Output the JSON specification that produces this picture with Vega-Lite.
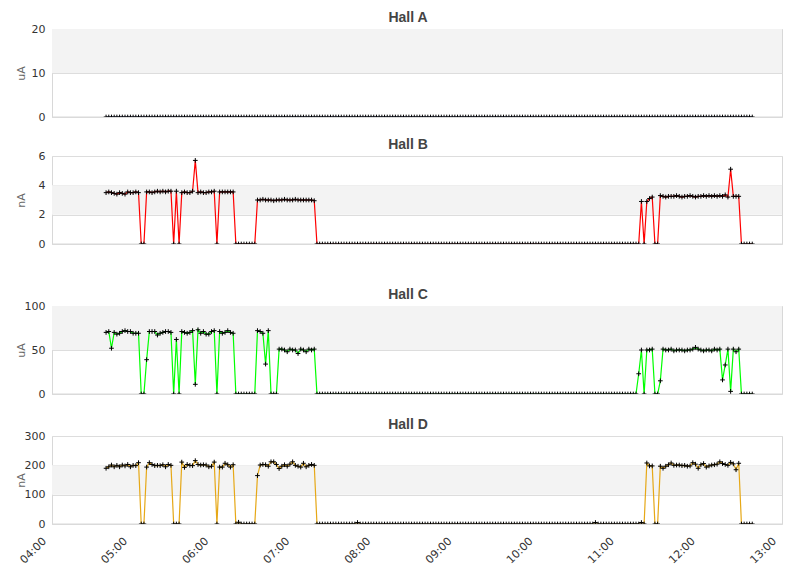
{
  "$schema": "https://vega.github.io/schema/vega-lite/v6.json",
  "background": "white",
  "padding": {"left": 14, "top": 10, "right": 24, "bottom": 5},
  "data": {
    "values": [
      {"t":"2000-01-01T04:40","a":0,"b":3.5,"c":70,"d":190},
      {"t":"2000-01-01T04:42","a":0,"b":3.55,"c":71,"d":195},
      {"t":"2000-01-01T04:44","a":0,"b":3.5,"c":52,"d":201},
      {"t":"2000-01-01T04:46","a":0,"b":3.45,"c":70,"d":195},
      {"t":"2000-01-01T04:48","a":0,"b":3.4,"c":68,"d":200},
      {"t":"2000-01-01T04:50","a":0,"b":3.5,"c":69,"d":195},
      {"t":"2000-01-01T04:52","a":0,"b":3.45,"c":71,"d":201},
      {"t":"2000-01-01T04:54","a":0,"b":3.4,"c":72,"d":198},
      {"t":"2000-01-01T04:56","a":0,"b":3.55,"c":71,"d":203},
      {"t":"2000-01-01T04:58","a":0,"b":3.5,"c":71,"d":195},
      {"t":"2000-01-01T05:00","a":0,"b":3.5,"c":69,"d":200},
      {"t":"2000-01-01T05:02","a":0,"b":3.55,"c":69,"d":199},
      {"t":"2000-01-01T05:04","a":0,"b":3.5,"c":69,"d":209},
      {"t":"2000-01-01T05:06","a":0,"b":0,"c":0,"d":0},
      {"t":"2000-01-01T05:08","a":0,"b":0,"c":0,"d":0},
      {"t":"2000-01-01T05:10","a":0,"b":3.55,"c":39,"d":194},
      {"t":"2000-01-01T05:12","a":0,"b":3.55,"c":71,"d":209},
      {"t":"2000-01-01T05:14","a":0,"b":3.5,"c":71,"d":203},
      {"t":"2000-01-01T05:16","a":0,"b":3.55,"c":71,"d":199},
      {"t":"2000-01-01T05:18","a":0,"b":3.6,"c":67,"d":200},
      {"t":"2000-01-01T05:20","a":0,"b":3.55,"c":69,"d":199},
      {"t":"2000-01-01T05:22","a":0,"b":3.6,"c":70,"d":202},
      {"t":"2000-01-01T05:24","a":0,"b":3.55,"c":71,"d":195},
      {"t":"2000-01-01T05:26","a":0,"b":3.6,"c":71,"d":203},
      {"t":"2000-01-01T05:28","a":0,"b":3.6,"c":70,"d":200},
      {"t":"2000-01-01T05:30","a":0,"b":0,"c":0,"d":0},
      {"t":"2000-01-01T05:32","a":0,"b":3.6,"c":62,"d":0},
      {"t":"2000-01-01T05:34","a":0,"b":0,"c":0,"d":0},
      {"t":"2000-01-01T05:36","a":0,"b":3.5,"c":71,"d":211},
      {"t":"2000-01-01T05:38","a":0,"b":3.55,"c":70,"d":193},
      {"t":"2000-01-01T05:40","a":0,"b":3.5,"c":69,"d":203},
      {"t":"2000-01-01T05:42","a":0,"b":3.5,"c":70,"d":200},
      {"t":"2000-01-01T05:44","a":0,"b":3.6,"c":72,"d":199},
      {"t":"2000-01-01T05:46","a":0,"b":5.7,"c":11,"d":216},
      {"t":"2000-01-01T05:48","a":0,"b":3.5,"c":73,"d":203},
      {"t":"2000-01-01T05:50","a":0,"b":3.55,"c":69,"d":201},
      {"t":"2000-01-01T05:52","a":0,"b":3.5,"c":71,"d":202},
      {"t":"2000-01-01T05:54","a":0,"b":3.5,"c":68,"d":201},
      {"t":"2000-01-01T05:56","a":0,"b":3.55,"c":68,"d":195},
      {"t":"2000-01-01T05:58","a":0,"b":3.55,"c":71,"d":197},
      {"t":"2000-01-01T06:00","a":0,"b":3.6,"c":72,"d":211},
      {"t":"2000-01-01T06:02","a":0,"b":0,"c":0,"d":0},
      {"t":"2000-01-01T06:04","a":0,"b":3.55,"c":71,"d":194},
      {"t":"2000-01-01T06:06","a":0,"b":3.55,"c":69,"d":194},
      {"t":"2000-01-01T06:08","a":0,"b":3.55,"c":70,"d":207},
      {"t":"2000-01-01T06:10","a":0,"b":3.55,"c":72,"d":202},
      {"t":"2000-01-01T06:12","a":0,"b":3.55,"c":70,"d":194},
      {"t":"2000-01-01T06:14","a":0,"b":3.55,"c":69,"d":202},
      {"t":"2000-01-01T06:16","a":0,"b":0,"c":0,"d":0},
      {"t":"2000-01-01T06:18","a":0,"b":0,"c":0,"d":6},
      {"t":"2000-01-01T06:20","a":0,"b":0,"c":0,"d":0},
      {"t":"2000-01-01T06:22","a":0,"b":0,"c":0,"d":0},
      {"t":"2000-01-01T06:24","a":0,"b":0,"c":0,"d":0},
      {"t":"2000-01-01T06:26","a":0,"b":0,"c":0,"d":0},
      {"t":"2000-01-01T06:28","a":0,"b":0,"c":0,"d":0},
      {"t":"2000-01-01T06:30","a":0,"b":0,"c":0,"d":0},
      {"t":"2000-01-01T06:32","a":0,"b":3,"c":72,"d":165},
      {"t":"2000-01-01T06:34","a":0,"b":3,"c":71,"d":201},
      {"t":"2000-01-01T06:36","a":0,"b":3.05,"c":69,"d":203},
      {"t":"2000-01-01T06:38","a":0,"b":3,"c":34,"d":202},
      {"t":"2000-01-01T06:40","a":0,"b":3,"c":72,"d":197},
      {"t":"2000-01-01T06:42","a":0,"b":3,"c":0,"d":212},
      {"t":"2000-01-01T06:44","a":0,"b":2.95,"c":0,"d":212},
      {"t":"2000-01-01T06:46","a":0,"b":3,"c":0,"d":203},
      {"t":"2000-01-01T06:48","a":0,"b":3,"c":51,"d":189},
      {"t":"2000-01-01T06:50","a":0,"b":3,"c":51,"d":197},
      {"t":"2000-01-01T06:52","a":0,"b":3.05,"c":50,"d":202},
      {"t":"2000-01-01T06:54","a":0,"b":3,"c":48,"d":197},
      {"t":"2000-01-01T06:56","a":0,"b":3,"c":51,"d":204},
      {"t":"2000-01-01T06:58","a":0,"b":3,"c":50,"d":212},
      {"t":"2000-01-01T07:00","a":0,"b":3.05,"c":50,"d":200},
      {"t":"2000-01-01T07:02","a":0,"b":3,"c":46,"d":197},
      {"t":"2000-01-01T07:04","a":0,"b":3,"c":51,"d":194},
      {"t":"2000-01-01T07:06","a":0,"b":3,"c":50,"d":207},
      {"t":"2000-01-01T07:08","a":0,"b":3,"c":48,"d":195},
      {"t":"2000-01-01T07:10","a":0,"b":3,"c":51,"d":200},
      {"t":"2000-01-01T07:12","a":0,"b":3,"c":50,"d":203},
      {"t":"2000-01-01T07:14","a":0,"b":2.95,"c":51,"d":200},
      {"t":"2000-01-01T07:16","a":0,"b":0,"c":0,"d":0},
      {"t":"2000-01-01T07:18","a":0,"b":0,"c":0,"d":0},
      {"t":"2000-01-01T07:20","a":0,"b":0,"c":0,"d":0},
      {"t":"2000-01-01T07:22","a":0,"b":0,"c":0,"d":0},
      {"t":"2000-01-01T07:24","a":0,"b":0,"c":0,"d":0},
      {"t":"2000-01-01T07:26","a":0,"b":0,"c":0,"d":0},
      {"t":"2000-01-01T07:28","a":0,"b":0,"c":0,"d":0},
      {"t":"2000-01-01T07:30","a":0,"b":0,"c":0,"d":0},
      {"t":"2000-01-01T07:32","a":0,"b":0,"c":0,"d":0},
      {"t":"2000-01-01T07:34","a":0,"b":0,"c":0,"d":0},
      {"t":"2000-01-01T07:36","a":0,"b":0,"c":0,"d":0},
      {"t":"2000-01-01T07:38","a":0,"b":0,"c":0,"d":0},
      {"t":"2000-01-01T07:40","a":0,"b":0,"c":0,"d":0},
      {"t":"2000-01-01T07:42","a":0,"b":0,"c":0,"d":0},
      {"t":"2000-01-01T07:44","a":0,"b":0,"c":0,"d":0},
      {"t":"2000-01-01T07:46","a":0,"b":0,"c":0,"d":5},
      {"t":"2000-01-01T07:48","a":0,"b":0,"c":0,"d":0},
      {"t":"2000-01-01T07:50","a":0,"b":0,"c":0,"d":0},
      {"t":"2000-01-01T07:52","a":0,"b":0,"c":0,"d":0},
      {"t":"2000-01-01T07:54","a":0,"b":0,"c":0,"d":0},
      {"t":"2000-01-01T07:56","a":0,"b":0,"c":0,"d":0},
      {"t":"2000-01-01T07:58","a":0,"b":0,"c":0,"d":0},
      {"t":"2000-01-01T08:00","a":0,"b":0,"c":0,"d":0},
      {"t":"2000-01-01T08:02","a":0,"b":0,"c":0,"d":0},
      {"t":"2000-01-01T08:04","a":0,"b":0,"c":0,"d":0},
      {"t":"2000-01-01T08:06","a":0,"b":0,"c":0,"d":0},
      {"t":"2000-01-01T08:08","a":0,"b":0,"c":0,"d":0},
      {"t":"2000-01-01T08:10","a":0,"b":0,"c":0,"d":0},
      {"t":"2000-01-01T08:12","a":0,"b":0,"c":0,"d":0},
      {"t":"2000-01-01T08:14","a":0,"b":0,"c":0,"d":0},
      {"t":"2000-01-01T08:16","a":0,"b":0,"c":0,"d":0},
      {"t":"2000-01-01T08:18","a":0,"b":0,"c":0,"d":0},
      {"t":"2000-01-01T08:20","a":0,"b":0,"c":0,"d":0},
      {"t":"2000-01-01T08:22","a":0,"b":0,"c":0,"d":0},
      {"t":"2000-01-01T08:24","a":0,"b":0,"c":0,"d":0},
      {"t":"2000-01-01T08:26","a":0,"b":0,"c":0,"d":0},
      {"t":"2000-01-01T08:28","a":0,"b":0,"c":0,"d":0},
      {"t":"2000-01-01T08:30","a":0,"b":0,"c":0,"d":0},
      {"t":"2000-01-01T08:32","a":0,"b":0,"c":0,"d":0},
      {"t":"2000-01-01T08:34","a":0,"b":0,"c":0,"d":0},
      {"t":"2000-01-01T08:36","a":0,"b":0,"c":0,"d":0},
      {"t":"2000-01-01T08:38","a":0,"b":0,"c":0,"d":0},
      {"t":"2000-01-01T08:40","a":0,"b":0,"c":0,"d":0},
      {"t":"2000-01-01T08:42","a":0,"b":0,"c":0,"d":0},
      {"t":"2000-01-01T08:44","a":0,"b":0,"c":0,"d":0},
      {"t":"2000-01-01T08:46","a":0,"b":0,"c":0,"d":0},
      {"t":"2000-01-01T08:48","a":0,"b":0,"c":0,"d":0},
      {"t":"2000-01-01T08:50","a":0,"b":0,"c":0,"d":0},
      {"t":"2000-01-01T08:52","a":0,"b":0,"c":0,"d":0},
      {"t":"2000-01-01T08:54","a":0,"b":0,"c":0,"d":0},
      {"t":"2000-01-01T08:56","a":0,"b":0,"c":0,"d":0},
      {"t":"2000-01-01T08:58","a":0,"b":0,"c":0,"d":0},
      {"t":"2000-01-01T09:00","a":0,"b":0,"c":0,"d":0},
      {"t":"2000-01-01T09:02","a":0,"b":0,"c":0,"d":0},
      {"t":"2000-01-01T09:04","a":0,"b":0,"c":0,"d":0},
      {"t":"2000-01-01T09:06","a":0,"b":0,"c":0,"d":0},
      {"t":"2000-01-01T09:08","a":0,"b":0,"c":0,"d":0},
      {"t":"2000-01-01T09:10","a":0,"b":0,"c":0,"d":0},
      {"t":"2000-01-01T09:12","a":0,"b":0,"c":0,"d":0},
      {"t":"2000-01-01T09:14","a":0,"b":0,"c":0,"d":0},
      {"t":"2000-01-01T09:16","a":0,"b":0,"c":0,"d":0},
      {"t":"2000-01-01T09:18","a":0,"b":0,"c":0,"d":0},
      {"t":"2000-01-01T09:20","a":0,"b":0,"c":0,"d":0},
      {"t":"2000-01-01T09:22","a":0,"b":0,"c":0,"d":0},
      {"t":"2000-01-01T09:24","a":0,"b":0,"c":0,"d":0},
      {"t":"2000-01-01T09:26","a":0,"b":0,"c":0,"d":0},
      {"t":"2000-01-01T09:28","a":0,"b":0,"c":0,"d":0},
      {"t":"2000-01-01T09:30","a":0,"b":0,"c":0,"d":0},
      {"t":"2000-01-01T09:32","a":0,"b":0,"c":0,"d":0},
      {"t":"2000-01-01T09:34","a":0,"b":0,"c":0,"d":0},
      {"t":"2000-01-01T09:36","a":0,"b":0,"c":0,"d":0},
      {"t":"2000-01-01T09:38","a":0,"b":0,"c":0,"d":0},
      {"t":"2000-01-01T09:40","a":0,"b":0,"c":0,"d":0},
      {"t":"2000-01-01T09:42","a":0,"b":0,"c":0,"d":0},
      {"t":"2000-01-01T09:44","a":0,"b":0,"c":0,"d":0},
      {"t":"2000-01-01T09:46","a":0,"b":0,"c":0,"d":0},
      {"t":"2000-01-01T09:48","a":0,"b":0,"c":0,"d":0},
      {"t":"2000-01-01T09:50","a":0,"b":0,"c":0,"d":0},
      {"t":"2000-01-01T09:52","a":0,"b":0,"c":0,"d":0},
      {"t":"2000-01-01T09:54","a":0,"b":0,"c":0,"d":0},
      {"t":"2000-01-01T09:56","a":0,"b":0,"c":0,"d":0},
      {"t":"2000-01-01T09:58","a":0,"b":0,"c":0,"d":0},
      {"t":"2000-01-01T10:00","a":0,"b":0,"c":0,"d":0},
      {"t":"2000-01-01T10:02","a":0,"b":0,"c":0,"d":0},
      {"t":"2000-01-01T10:04","a":0,"b":0,"c":0,"d":0},
      {"t":"2000-01-01T10:06","a":0,"b":0,"c":0,"d":0},
      {"t":"2000-01-01T10:08","a":0,"b":0,"c":0,"d":0},
      {"t":"2000-01-01T10:10","a":0,"b":0,"c":0,"d":0},
      {"t":"2000-01-01T10:12","a":0,"b":0,"c":0,"d":0},
      {"t":"2000-01-01T10:14","a":0,"b":0,"c":0,"d":0},
      {"t":"2000-01-01T10:16","a":0,"b":0,"c":0,"d":0},
      {"t":"2000-01-01T10:18","a":0,"b":0,"c":0,"d":0},
      {"t":"2000-01-01T10:20","a":0,"b":0,"c":0,"d":0},
      {"t":"2000-01-01T10:22","a":0,"b":0,"c":0,"d":0},
      {"t":"2000-01-01T10:24","a":0,"b":0,"c":0,"d":0},
      {"t":"2000-01-01T10:26","a":0,"b":0,"c":0,"d":0},
      {"t":"2000-01-01T10:28","a":0,"b":0,"c":0,"d":0},
      {"t":"2000-01-01T10:30","a":0,"b":0,"c":0,"d":0},
      {"t":"2000-01-01T10:32","a":0,"b":0,"c":0,"d":0},
      {"t":"2000-01-01T10:34","a":0,"b":0,"c":0,"d":0},
      {"t":"2000-01-01T10:36","a":0,"b":0,"c":0,"d":0},
      {"t":"2000-01-01T10:38","a":0,"b":0,"c":0,"d":0},
      {"t":"2000-01-01T10:40","a":0,"b":0,"c":0,"d":0},
      {"t":"2000-01-01T10:42","a":0,"b":0,"c":0,"d":5},
      {"t":"2000-01-01T10:44","a":0,"b":0,"c":0,"d":0},
      {"t":"2000-01-01T10:46","a":0,"b":0,"c":0,"d":0},
      {"t":"2000-01-01T10:48","a":0,"b":0,"c":0,"d":0},
      {"t":"2000-01-01T10:50","a":0,"b":0,"c":0,"d":0},
      {"t":"2000-01-01T10:52","a":0,"b":0,"c":0,"d":0},
      {"t":"2000-01-01T10:54","a":0,"b":0,"c":0,"d":0},
      {"t":"2000-01-01T10:56","a":0,"b":0,"c":0,"d":0},
      {"t":"2000-01-01T10:58","a":0,"b":0,"c":0,"d":0},
      {"t":"2000-01-01T11:00","a":0,"b":0,"c":0,"d":0},
      {"t":"2000-01-01T11:02","a":0,"b":0,"c":0,"d":0},
      {"t":"2000-01-01T11:04","a":0,"b":0,"c":0,"d":0},
      {"t":"2000-01-01T11:06","a":0,"b":0,"c":0,"d":0},
      {"t":"2000-01-01T11:08","a":0,"b":0,"c":0,"d":0},
      {"t":"2000-01-01T11:10","a":0,"b":0,"c":0,"d":0},
      {"t":"2000-01-01T11:12","a":0,"b":0,"c":0,"d":0},
      {"t":"2000-01-01T11:14","a":0,"b":0,"c":23,"d":0},
      {"t":"2000-01-01T11:16","a":0,"b":2.9,"c":50,"d":5},
      {"t":"2000-01-01T11:18","a":0,"b":0,"c":0,"d":0},
      {"t":"2000-01-01T11:20","a":0,"b":2.9,"c":50,"d":208},
      {"t":"2000-01-01T11:22","a":0,"b":3.1,"c":50,"d":198},
      {"t":"2000-01-01T11:24","a":0,"b":3.2,"c":51,"d":198},
      {"t":"2000-01-01T11:26","a":0,"b":0,"c":0,"d":0},
      {"t":"2000-01-01T11:28","a":0,"b":0,"c":0,"d":0},
      {"t":"2000-01-01T11:30","a":0,"b":3.3,"c":15,"d":197},
      {"t":"2000-01-01T11:32","a":0,"b":3.25,"c":51,"d":190},
      {"t":"2000-01-01T11:34","a":0,"b":3.2,"c":50,"d":197},
      {"t":"2000-01-01T11:36","a":0,"b":3.25,"c":50,"d":202},
      {"t":"2000-01-01T11:38","a":0,"b":3.25,"c":51,"d":208},
      {"t":"2000-01-01T11:40","a":0,"b":3.25,"c":49,"d":200},
      {"t":"2000-01-01T11:42","a":0,"b":3.3,"c":50,"d":201},
      {"t":"2000-01-01T11:44","a":0,"b":3.25,"c":50,"d":201},
      {"t":"2000-01-01T11:46","a":0,"b":3.2,"c":50,"d":199},
      {"t":"2000-01-01T11:48","a":0,"b":3.25,"c":49,"d":200},
      {"t":"2000-01-01T11:50","a":0,"b":3.25,"c":50,"d":197},
      {"t":"2000-01-01T11:52","a":0,"b":3.3,"c":50,"d":198},
      {"t":"2000-01-01T11:54","a":0,"b":3.25,"c":51,"d":209},
      {"t":"2000-01-01T11:56","a":0,"b":3.2,"c":53,"d":204},
      {"t":"2000-01-01T11:58","a":0,"b":3.25,"c":51,"d":190},
      {"t":"2000-01-01T12:00","a":0,"b":3.25,"c":50,"d":202},
      {"t":"2000-01-01T12:02","a":0,"b":3.3,"c":49,"d":206},
      {"t":"2000-01-01T12:04","a":0,"b":3.25,"c":50,"d":194},
      {"t":"2000-01-01T12:06","a":0,"b":3.3,"c":50,"d":198},
      {"t":"2000-01-01T12:08","a":0,"b":3.25,"c":49,"d":201},
      {"t":"2000-01-01T12:10","a":0,"b":3.3,"c":51,"d":202},
      {"t":"2000-01-01T12:12","a":0,"b":3.25,"c":50,"d":204},
      {"t":"2000-01-01T12:14","a":0,"b":3.3,"c":51,"d":212},
      {"t":"2000-01-01T12:16","a":0,"b":3.25,"c":16,"d":206},
      {"t":"2000-01-01T12:18","a":0,"b":3.35,"c":33,"d":203},
      {"t":"2000-01-01T12:20","a":0,"b":3.2,"c":51,"d":200},
      {"t":"2000-01-01T12:22","a":0,"b":5.1,"c":3,"d":210},
      {"t":"2000-01-01T12:24","a":0,"b":3.25,"c":51,"d":205},
      {"t":"2000-01-01T12:26","a":0,"b":3.25,"c":48,"d":185},
      {"t":"2000-01-01T12:28","a":0,"b":3.25,"c":51,"d":207},
      {"t":"2000-01-01T12:30","a":0,"b":0,"c":0,"d":0},
      {"t":"2000-01-01T12:32","a":0,"b":0,"c":0,"d":0},
      {"t":"2000-01-01T12:34","a":0,"b":0,"c":0,"d":0},
      {"t":"2000-01-01T12:36","a":0,"b":0,"c":0,"d":0},
      {"t":"2000-01-01T12:38","a":0,"b":0,"c":0,"d":0}
    ]
  },
  "config": {
    "view": {"stroke": "#d8d8d8"},
    "axis": {
      "labelFont": "DejaVu Sans",
      "labelFontSize": 11,
      "labelColor": "#333333",
      "titleFont": "DejaVu Sans",
      "titleFontSize": 11,
      "titleFontWeight": "normal",
      "titleColor": "#666666",
      "gridColor": "#dddddd",
      "domain": false,
      "ticks": false
    },
    "axisY": {"labelPadding": 7, "titleX": -31, "titleBaseline": "middle"},
    "title": {"font": "Liberation Sans", "fontSize": 14, "fontWeight": "bold", "color": "#444444", "offset": -2, "dx": -9}
  },
  "spacing": 37,
  "vconcat": [
    {
      "spacing": 14,
      "vconcat": [
        {
          "title": "Hall A",
          "width": 730,
          "height": 88,
          "layer": [
            {
              "data": {"values": [{"lo": 10, "hi": 20}]},
              "mark": {"type": "rect", "color": "#f3f3f3"},
              "encoding": {
                "y": {"field": "lo", "type": "quantitative", "scale": {"domain": [0, 20], "nice": false}, "axis": {"values": [0, 10, 20]}, "title": "uA"},
                "y2": {"field": "hi"}
              }
            },
            {
              "mark": {"type": "line", "color": "#3366ff", "strokeWidth": 1.2, "clip": true},
              "encoding": {
                "x": {"field": "t", "type": "temporal", "scale": {"domain": [{"year": 2000, "month": 1, "date": 1, "hours": 4}, {"year": 2000, "month": 1, "date": 1, "hours": 13}]}, "axis": null},
                "y": {"field": "a", "type": "quantitative", "axis": {"values": [0, 10, 20]}, "title": "uA"}
              }
            },
            {
              "data": {"values": [{"z": 0}]},
              "mark": {"type": "rule", "color": "#d8d8d8"},
              "encoding": {"y": {"field": "z", "type": "quantitative", "axis": {"values": [0, 10, 20]}, "title": "uA"}}
            },
            {
              "mark": {"type": "point", "shape": "M-1,0L1,0M0,-1L0,1", "filled": false, "color": "#000000", "strokeWidth": 1, "size": 22, "opacity": 1, "clip": true},
              "encoding": {
                "x": {"field": "t", "type": "temporal", "axis": null},
                "y": {"field": "a", "type": "quantitative", "axis": {"values": [0, 10, 20]}, "title": "uA"}
              }
            }
          ]
        },
        {
          "title": "Hall B",
          "width": 730,
          "height": 88,
          "layer": [
            {
              "data": {"values": [{"lo": 2, "hi": 4}]},
              "mark": {"type": "rect", "color": "#f3f3f3"},
              "encoding": {
                "y": {"field": "lo", "type": "quantitative", "scale": {"domain": [0, 6], "nice": false}, "axis": {"values": [0, 2, 4, 6]}, "title": "nA"},
                "y2": {"field": "hi"}
              }
            },
            {
              "mark": {"type": "line", "color": "#ff0000", "strokeWidth": 1.2, "clip": true},
              "encoding": {
                "x": {"field": "t", "type": "temporal", "scale": {"domain": [{"year": 2000, "month": 1, "date": 1, "hours": 4}, {"year": 2000, "month": 1, "date": 1, "hours": 13}]}, "axis": null},
                "y": {"field": "b", "type": "quantitative", "axis": {"values": [0, 2, 4, 6]}, "title": "nA"}
              }
            },
            {
              "data": {"values": [{"z": 0}]},
              "mark": {"type": "rule", "color": "#d8d8d8"},
              "encoding": {"y": {"field": "z", "type": "quantitative", "axis": {"values": [0, 2, 4, 6]}, "title": "nA"}}
            },
            {
              "mark": {"type": "point", "shape": "M-1,0L1,0M0,-1L0,1", "filled": false, "color": "#000000", "strokeWidth": 1, "size": 22, "opacity": 1, "clip": true},
              "encoding": {
                "x": {"field": "t", "type": "temporal", "axis": null},
                "y": {"field": "b", "type": "quantitative", "axis": {"values": [0, 2, 4, 6]}, "title": "nA"}
              }
            }
          ]
        }
      ]
    },
    {
      "spacing": 17,
      "vconcat": [
        {
          "title": "Hall C",
          "width": 730,
          "height": 88,
          "layer": [
            {
              "data": {"values": [{"lo": 50, "hi": 100}]},
              "mark": {"type": "rect", "color": "#f3f3f3"},
              "encoding": {
                "y": {"field": "lo", "type": "quantitative", "scale": {"domain": [0, 100], "nice": false}, "axis": {"values": [0, 50, 100]}, "title": "uA"},
                "y2": {"field": "hi"}
              }
            },
            {
              "mark": {"type": "line", "color": "#00ff00", "strokeWidth": 1.2, "clip": true},
              "encoding": {
                "x": {"field": "t", "type": "temporal", "scale": {"domain": [{"year": 2000, "month": 1, "date": 1, "hours": 4}, {"year": 2000, "month": 1, "date": 1, "hours": 13}]}, "axis": null},
                "y": {"field": "c", "type": "quantitative", "axis": {"values": [0, 50, 100]}, "title": "uA"}
              }
            },
            {
              "data": {"values": [{"z": 0}]},
              "mark": {"type": "rule", "color": "#d8d8d8"},
              "encoding": {"y": {"field": "z", "type": "quantitative", "axis": {"values": [0, 50, 100]}, "title": "uA"}}
            },
            {
              "mark": {"type": "point", "shape": "M-1,0L1,0M0,-1L0,1", "filled": false, "color": "#000000", "strokeWidth": 1, "size": 22, "opacity": 1, "clip": true},
              "encoding": {
                "x": {"field": "t", "type": "temporal", "axis": null},
                "y": {"field": "c", "type": "quantitative", "axis": {"values": [0, 50, 100]}, "title": "uA"}
              }
            }
          ]
        },
        {
          "title": "Hall D",
          "width": 730,
          "height": 88,
          "layer": [
            {
              "data": {"values": [{"lo": 100, "hi": 200}]},
              "mark": {"type": "rect", "color": "#f3f3f3"},
              "encoding": {
                "y": {"field": "lo", "type": "quantitative", "scale": {"domain": [0, 300], "nice": false}, "axis": {"values": [0, 100, 200, 300]}, "title": "nA"},
                "y2": {"field": "hi"}
              }
            },
            {
              "mark": {"type": "line", "color": "#e6a817", "strokeWidth": 1.2, "clip": true},
              "encoding": {
                "x": {
                  "field": "t",
                  "type": "temporal",
                  "scale": {"domain": [{"year": 2000, "month": 1, "date": 1, "hours": 4}, {"year": 2000, "month": 1, "date": 1, "hours": 13}]},
                  "axis": {"title": null, "format": "%H:%M", "tickCount": 9, "grid": false, "labelAngle": -45, "labelAlign": "right", "labelBaseline": "top", "labelPadding": 11, "labelOffset": -12, "labelOverlap": false, "labelFlush": false}
                },
                "y": {"field": "d", "type": "quantitative", "axis": {"values": [0, 100, 200, 300]}, "title": "nA"}
              }
            },
            {
              "data": {"values": [{"z": 0}]},
              "mark": {"type": "rule", "color": "#d8d8d8"},
              "encoding": {"y": {"field": "z", "type": "quantitative", "axis": {"values": [0, 100, 200, 300]}, "title": "nA"}}
            },
            {
              "mark": {"type": "point", "shape": "M-1,0L1,0M0,-1L0,1", "filled": false, "color": "#000000", "strokeWidth": 1, "size": 22, "opacity": 1, "clip": true},
              "encoding": {
                "x": {"field": "t", "type": "temporal"},
                "y": {"field": "d", "type": "quantitative", "axis": {"values": [0, 100, 200, 300]}, "title": "nA"}
              }
            }
          ]
        }
      ]
    }
  ]
}
